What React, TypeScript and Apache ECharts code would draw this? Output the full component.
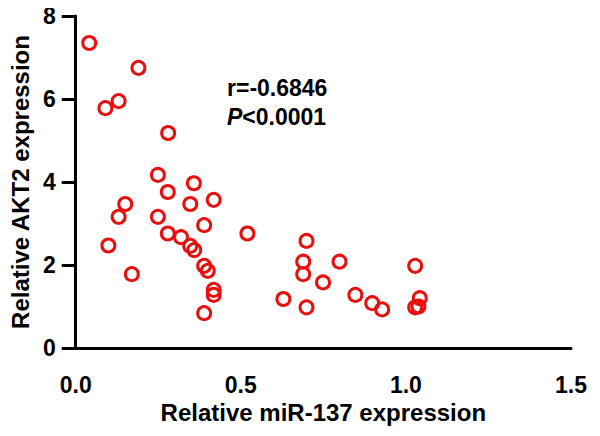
import React, { useEffect, useRef } from "react";
import * as echarts from "echarts";

const mir137: number[] = [
  0.041, 0.19, 0.09, 0.13, 0.28, 0.249, 0.279, 0.358, 0.347, 0.418,
  0.15, 0.13, 0.249, 0.389, 0.52, 0.279, 0.319, 0.347, 0.359, 0.099,
  0.17, 0.389, 0.4, 0.418, 0.418, 0.389, 0.699, 0.689, 0.689, 0.799,
  0.749, 0.629, 0.699, 0.847, 0.898, 0.928, 1.028, 1.042, 1.028, 1.038,
];
const akt2: number[] = [
  7.35, 6.75, 5.78, 5.95, 5.18, 4.17, 3.76, 3.97, 3.47, 3.57,
  3.47, 3.16, 3.16, 2.96, 2.76, 2.76, 2.67, 2.46, 2.36, 2.47,
  1.78, 1.98, 1.86, 1.4, 1.28, 0.84, 2.58, 2.08, 1.78, 2.08,
  1.58, 1.18, 0.98, 1.28, 1.08, 0.93, 1.98, 1.2, 0.98, 1.0,
];
const xTicks: string[] = ["0.0", "0.5", "1.0", "1.5"];
const yTicks: string[] = ["0", "2", "4", "6", "8"];
const statR = "r=-0.6846";
const statP = "<0.0001";

const FONT = "Liberation Sans, Arial, sans-serif";

export default function App() {
  const ref = useRef<HTMLDivElement>(null);
  useEffect(() => {
    if (!ref.current) return;
    const chart = echarts.init(ref.current, undefined, { renderer: "svg" });
    const points = mir137.map((x, i) => [x, akt2[i]]);
    chart.setOption({
      animation: false,
      backgroundColor: "#ffffff",
      grid: { left: 73, right: 29, top: 16, bottom: 88, containLabel: false },
      xAxis: {
        type: "value",
        min: 0,
        max: 1.5,
        interval: 0.5,
        name: "Relative miR-137 expression",
        nameLocation: "middle",
        nameGap: 52,
        nameTextStyle: { fontFamily: FONT, fontWeight: "bold", fontSize: 24, color: "#000" },
        axisLine: { onZero: false, lineStyle: { color: "#000", width: 3 } },
        axisTick: { show: false },
        splitLine: { show: false },
        axisLabel: {
          margin: 25,
          fontFamily: FONT,
          fontWeight: "bold",
          fontSize: 23,
          color: "#000",
          formatter: (v: number) => xTicks[Math.round(v / 0.5)] ?? "",
        },
      },
      yAxis: {
        type: "value",
        min: 0,
        max: 8,
        interval: 2,
        name: "Relative AKT2 expression",
        nameLocation: "middle",
        nameGap: 35,
        nameTextStyle: { fontFamily: FONT, fontWeight: "bold", fontSize: 24, color: "#000" },
        axisLine: { show: true, lineStyle: { color: "#000", width: 3 } },
        axisTick: { show: true, inside: false, length: 14, lineStyle: { color: "#000", width: 3 } },
        splitLine: { show: false },
        axisLabel: {
          margin: 20,
          fontFamily: FONT,
          fontWeight: "bold",
          fontSize: 23,
          color: "#000",
          formatter: (v: number) => yTicks[Math.round(v / 2)] ?? "",
        },
      },
      series: [
        {
          type: "scatter",
          data: points,
          symbol: "circle",
          symbolSize: 13,
          itemStyle: { color: "rgba(255,255,255,0)", borderColor: "#e8100f", borderWidth: 3, opacity: 1 },
        },
      ],
      graphic: [
        {
          type: "text",
          left: 227,
          top: 76,
          style: {
            text: statR,
            font: `bold 23px ${FONT}`,
            fill: "#000",
          },
        },
        {
          type: "text",
          left: 227,
          top: 105,
          style: {
            text: "{i|P}{n|" + statP + "}",
            rich: {
              i: { fontFamily: FONT, fontWeight: "bold", fontStyle: "italic", fontSize: 23, fill: "#000", color: "#000" },
              n: { fontFamily: FONT, fontWeight: "bold", fontSize: 23, fill: "#000", color: "#000" },
            },
          },
        },
      ],
    });
    return () => chart.dispose();
  }, []);
  return <div ref={ref} style={{ width: 600, height: 436, margin: -8 }} />;
}
